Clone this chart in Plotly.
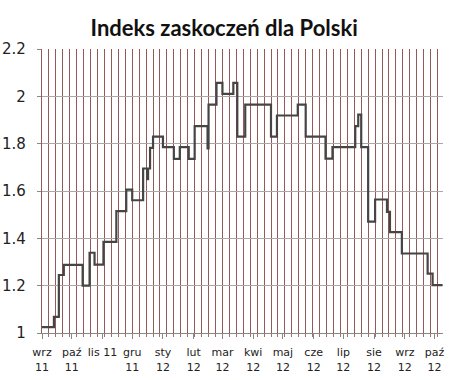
import plotly.graph_objects as go

# change points of the index (date, value)
dates = ["2011-09-01", "2011-09-13", "2011-09-18", "2011-09-23", "2011-10-12",
         "2011-10-19", "2011-10-24", "2011-11-02", "2011-11-15", "2011-11-25",
         "2011-12-01", "2011-12-12", "2011-12-16", "2011-12-17", "2011-12-19",
         "2011-12-22", "2012-01-01", "2012-01-12", "2012-01-18", "2012-01-27",
         "2012-02-02", "2012-02-15", "2012-02-16", "2012-02-24", "2012-03-01",
         "2012-03-12", "2012-03-16", "2012-03-24", "2012-04-19", "2012-04-25",
         "2012-05-16", "2012-05-24", "2012-06-13", "2012-06-20", "2012-07-13",
         "2012-07-16", "2012-07-19", "2012-07-26", "2012-08-02", "2012-08-14",
         "2012-08-17", "2012-08-29", "2012-09-24", "2012-09-29", "2012-10-09"]
values = [1.025, 1.068, 1.245, 1.288, 1.20,
          1.339, 1.289, 1.385, 1.515, 1.606,
          1.561, 1.695, 1.65, 1.695, 1.782,
          1.83, 1.785, 1.736, 1.785, 1.736,
          1.874, 1.78, 1.965, 2.057, 2.01,
          2.057, 1.83, 1.965, 1.83, 1.919,
          1.965, 1.83, 1.737, 1.785, 1.874,
          1.923, 1.785, 1.471, 1.564, 1.512,
          1.426, 1.336, 1.251, 1.202, 1.202]

month_ticks = ["2011-09-01", "2011-10-01", "2011-11-01", "2011-12-01", "2012-01-01",
               "2012-02-01", "2012-03-01", "2012-04-01", "2012-05-01", "2012-06-01",
               "2012-07-01", "2012-08-01", "2012-09-01", "2012-10-01"]
month_labels = ["wrz<br>11", "paź<br>11", "lis 11", "gru<br>11", "sty<br>12",
                "lut<br>12", "mar<br>12", "kwi<br>12", "maj<br>12", "cze<br>12",
                "lip<br>12", "sie<br>12", "wrz<br>12", "paź<br>12"]
y_ticks = [1, 1.2, 1.4, 1.6, 1.8, 2, 2.2]
y_labels = ["1", "1.2", "1.4", "1.6", "1.8", "2", "2.2"]

fig = go.Figure()
fig.add_trace(go.Scatter(
    x=dates, y=values, mode="lines", line_shape="hv",
    line=dict(color="#454545", width=2.2), showlegend=False, hoverinfo="skip"))

fig.update_layout(
    width=468, height=380,
    margin=dict(l=42, r=25, t=49, b=46.5),
    paper_bgcolor="white", plot_bgcolor="white",
    font=dict(family="DejaVu Sans", color="#222222"),
    title=dict(text="<b>Indeks zaskoczeń dla Polski</b>",
               font=dict(family="Lato", size=22, color="#111111"),
               x=0.479, xref="container", xanchor="center",
               y=1 - 28 / 380, yref="container", yanchor="middle"),
)
fig.update_xaxes(
    type="date", range=["2011-09-01", "2012-10-09 12:00"], automargin=False,
    tickmode="array", tickvals=month_ticks, ticktext=month_labels,
    tickfont=dict(size=11, color="#222222"), ticklabelstandoff=4,
    ticks="outside", ticklen=5, tickcolor="#888888",
    showgrid=False, showline=True, linecolor="#888888", linewidth=1,
    minor=dict(tickmode="linear", tick0="2011-09-01", dtick=7 * 86400000,
               showgrid=True, gridcolor="#955a58", gridwidth=1.2,
               ticks="outside", ticklen=3, tickcolor="#a07070"),
    zeroline=False,
)
fig.update_yaxes(
    range=[1, 2.2], automargin=False,
    tickmode="array", tickvals=y_ticks, ticktext=y_labels,
    tickfont=dict(size=15, color="#222222"), ticklabelstandoff=8,
    ticks="outside", ticklen=4, tickcolor="#888888",
    showgrid=True, gridcolor="#a8a8a8", gridwidth=1,
    showline=True, linecolor="#955a58", linewidth=1.2, zeroline=False,
)

fig.write_html("out.html")
